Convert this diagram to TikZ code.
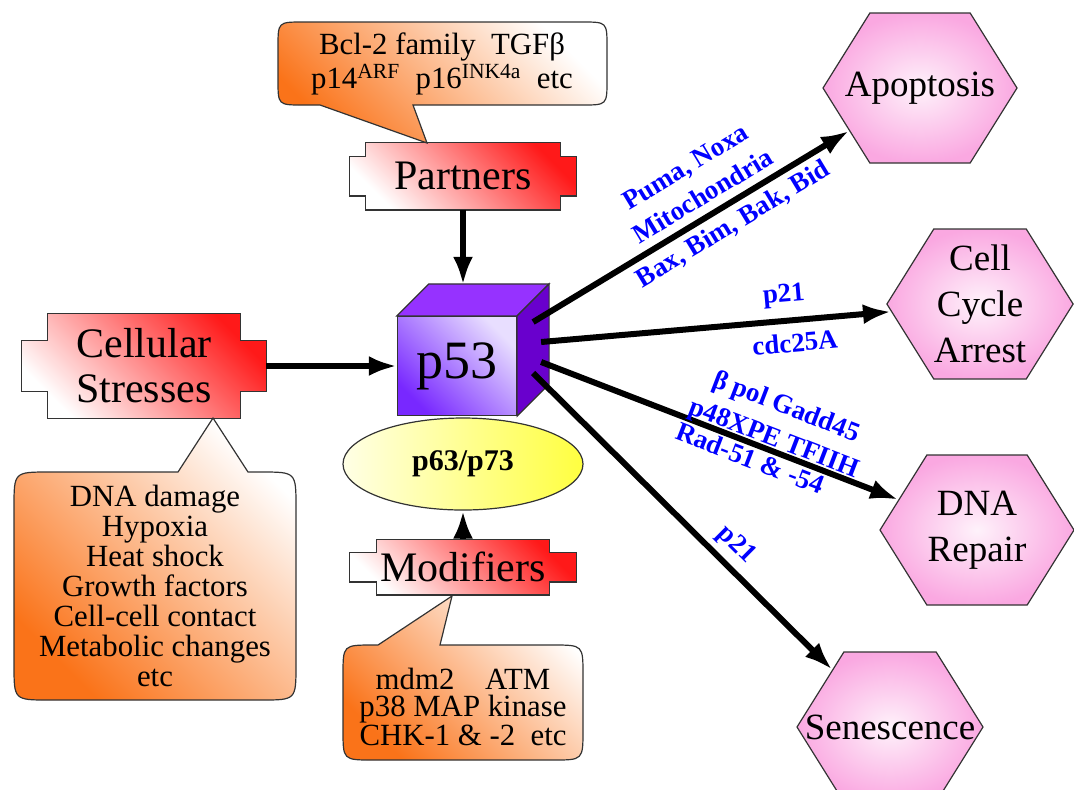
\documentclass[tikz,border=0pt]{standalone}
\usepackage{fontspec}
\setmainfont{Liberation Serif}
\usepackage{tikz}
\usetikzlibrary{arrows.meta,calc,shapes.symbols,shapes.geometric,backgrounds}
\definecolor{plaquered}{RGB}{255,25,25}
\definecolor{bubbleorange}{RGB}{250,115,25}
\definecolor{cubelight}{RGB}{232,222,255}
\definecolor{cubepurple}{RGB}{120,40,255}
\definecolor{cubetop}{RGB}{150,50,255}
\definecolor{cubeside}{RGB}{105,0,205}
\definecolor{hexpink}{RGB}{250,168,225}
\definecolor{labelblue}{RGB}{0,0,255}
\tikzset{>={Latex[length=14pt,width=10pt]}}

% outline of a plaque round node #1, tab width #2, tab inset #3
\newcommand{\plaqueline}[3]{%
  \shadedraw[plaquefill] ($(#1.north west)+(#2,0)$) -- ($(#1.north east)+(-#2,0)$)
    -- ($(#1.north east)+(-#2,#3)$) -- ($(#1.north east)+(0,#3)$)
    -- ($(#1.south east)+(0,-#3)$) -- ($(#1.south east)+(-#2,-#3)$)
    -- ($(#1.south east)+(-#2,0)$) -- ($(#1.south west)+(#2,0)$)
    -- ($(#1.south west)+(#2,-#3)$) -- ($(#1.south west)+(0,-#3)$)
    -- ($(#1.north west)+(0,#3)$) -- ($(#1.north west)+(#2,#3)$) -- cycle;}

\begin{document}
\begin{tikzpicture}[x=0.5pt, y=-0.5pt]
        \tikzstyle{plaque}=[inner sep=0pt, align=center]
        \tikzstyle{plaquefill}=[top color=plaquered, bottom color=white, shading angle=-45, draw=black!80, line width=0.6pt]
        \tikzstyle{bubble}=[top color=white, bottom color=bubbleorange, shading angle=-45, draw=black!80, line width=0.6pt]
        \tikzstyle{bubbletext}=[align=center, inner sep=0pt, font=\fontsize{15.4}{15}\selectfont]
        \tikzstyle{fate}=[shape=signal, signal to=east and west, signal from=nowhere, signal pointer angle=116, draw=black!80, line width=0.6pt, inner color=hexpink!15!white, outer color=hexpink, minimum height=75pt, inner sep=0pt, align=center, font=\fontsize{18.5}{23}\selectfont]
        \tikzstyle{link}=[->, line width=3pt]
        \tikzstyle{via}=[sloped, text=labelblue, font=\bfseries\fontsize{13.5}{17}\selectfont, align=center, inner sep=1pt]
        \useasboundingbox (0,0) rectangle (1074,789);

        % plaques
        \node[plaque, minimum width=122pt, minimum height=52pt, font=\fontsize{21}{22.5}\selectfont] (stress) at (144,366) {Cellular\\Stresses};
        \node[plaque, minimum width=113pt, minimum height=33.5pt, font=\fontsize{21}{22}\selectfont] (partners) at (463,176) {Partners};
        \node[plaque, minimum width=113pt, minimum height=27.5pt, font=\fontsize{21}{22}\selectfont] (modifiers) at (463,567) {Modifiers};

        % bubbles
        \node[bubbletext] (partnerlist) at (442,64) {Bcl-2 family\ \ TGFβ\\[0.5pt]p14\textsuperscript{ARF}\ \ p16\textsuperscript{INK4a}\ \ etc};
        \node[bubbletext] (stresslist) at (155,586) {DNA damage\\Hypoxia\\Heat shock\\Growth factors\\Cell-cell contact\\Metabolic changes\\etc};
        \node[bubbletext, font=\fontsize{15.4}{13.5}\selectfont] (modlist) at (463,707) {mdm2\quad ATM\\p38 MAP kinase\\CHK-1 \& -2\ \ etc};

        % p53 and family
        \node[draw=black!80, line width=0.6pt, top color=cubelight, bottom color=cubepurple, shading angle=-45, minimum width=59.5pt, minimum height=49.5pt, inner sep=0pt, font=\fontsize{27}{27}\selectfont] (p53) at (457,366) {p53};
        \node[ellipse, draw=black!80, line width=0.6pt, left color=yellow!10, right color=yellow!75, minimum width=120pt, minimum height=46pt, inner sep=0pt, font=\bfseries\fontsize{15}{15}\selectfont] (p6373) at (463,464) {p63/p73};

        % fates
        \node[fate, minimum width=97pt] (apoptosis) at (920,88) {\makebox[0pt]{Apoptosis}};
        \node[fate, minimum width=93pt] (arrest) at (980,304) {Cell\\Cycle\\Arrest};
        \node[fate, minimum width=97pt] (repair) at (977,530) {DNA\\Repair};
        \node[fate, minimum width=93pt] (senescence) at (890,727) {\makebox[0pt]{Senescence}};

        \begin{scope}[on background layer]
                \plaqueline{stress}{26}{27}
                \plaqueline{partners}{16}{14}
                \plaqueline{modifiers}{27}{13}
                \shadedraw[bubble] (320,105) -- (427,143) -- (413,105) -- (582,105) .. controls (607,105) .. (607,80)
                        -- (607,47) .. controls (607,22) .. (582,22) -- (303,22) .. controls (278,22) .. (278,47)
                        -- (278,80) .. controls (278,105) .. (303,105) -- cycle;
                \shadedraw[bubble] (178,472) -- (213,418) -- (248,472) -- (261,472) .. controls (296,472) .. (296,507)
                        -- (296,665) .. controls (296,700) .. (261,700) -- (49,700) .. controls (14,700) .. (14,665)
                        -- (14,507) .. controls (14,472) .. (49,472) -- cycle;
                \shadedraw[bubble] (378,645) -- (452,596) -- (440,645) -- (553,645) .. controls (583,645) .. (583,675)
                        -- (583,730) .. controls (583,760) .. (553,760) -- (373,760) .. controls (343,760) .. (343,730)
                        -- (343,675) .. controls (343,645) .. (373,645) -- cycle;
                % cube faces
                \filldraw[fill=cubetop, draw=black!80, line width=0.6pt] (p53.north west) -- (p53.north east) -- ++(32,-32) -- ($(p53.north west)+(32,-32)$) -- cycle;
                \filldraw[fill=cubeside, draw=black!80, line width=0.6pt] (p53.north east) -- (p53.south east) -- ++(32,-32) -- ($(p53.north east)+(32,-32)$) -- cycle;
        \end{scope}

        % inputs
        \coordinate (p53top) at ($(p53.north)+(6,-31)$);
        \draw[link] (partners) -- (p53top);
        \draw[link] (stress.east) -- (stress.east -| p53.west);
        \draw[link] (modifiers) -- (p6373);

        % outputs
        \coordinate (s1) at ($(p53.east)+(16,-44)$);
        \coordinate (s2) at ($(p53.east)+(24,-24)$);
        \coordinate (s3) at ($(p53.east)+(24,-4)$);
        \coordinate (s4) at ($(p53.east)+(16,7)$);
        \draw[link] (s1) -- (apoptosis)
                node[via, above=3pt, pos=0.57] {Puma, Noxa\\Mitochondria}
                node[via, below=2pt, pos=0.6] {Bax, Bim, Bak, Bid};
        \draw[link] (s2) -- (arrest)
                node[via, above=4pt, pos=0.7] {p21}
                node[via, below=4pt, pos=0.72] {cdc25A};
        \draw[link] (s3) -- (repair)
                node[via, above=-3pt, pos=0.64] {β pol Gadd45\\p48XPE TFIIH}
                node[via, below=0pt, pos=0.6] {Rad-51 \& -54};
        \draw[link] (s4) -- (senescence)
                node[via, above=2pt, pos=0.63] {p21};
\end{tikzpicture}
\end{document}
